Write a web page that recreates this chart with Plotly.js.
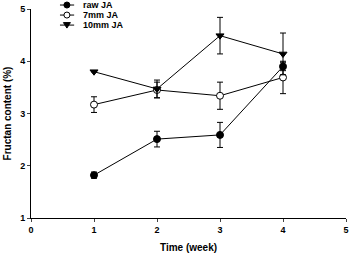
<!DOCTYPE html>
<html><head><meta charset="utf-8">
<script src="https://cdn.plot.ly/plotly-3.0.1.min.js"></script>
<style>html,body{margin:0;padding:0;background:#fff}#c{width:351px;height:253px}</style>
</head><body><div id="c"></div>
<script>
const weeks = [1, 2, 3, 4];
const rawJA = [1.82, 2.51, 2.59, 3.90];
const rawErr = [0.06, 0.15, 0.24, 0.08];
const mm7JA = [3.17, 3.45, 3.34, 3.69];
const mm7Err = [0.15, 0.15, 0.26, 0.31];
const mm10JA = [3.80, 3.47, 4.49, 4.14];
const mm10Err = [null, 0.17, 0.35, 0.40];
const names = ['raw JA', '7mm JA', '10mm JA'];
const symbols = ['circle', 'circle', 'triangle-down'];
const fills = ['#000', '#fff', '#000'];
const F = 'Liberation Sans, Arial, sans-serif';

function tr(y, e, i) {
  return {x: weeks, y: y, name: names[i], type: 'scatter', mode: 'lines+markers', showlegend: false,
    line: {color: '#000', width: 1},
    marker: {symbol: symbols[i], size: 7, color: fills[i], line: {color: '#000', width: 1}},
    error_y: {type: 'data', array: e, visible: true, color: '#000', thickness: 1, width: 3}};
}
const data = [tr(rawJA, rawErr, 0), tr(mm7JA, mm7Err, 1), tr(mm10JA, mm10Err, 2)];

// manual compact legend
const shapes = [], annotations = [];
const legY = [1.019, 0.971, 0.923];
names.forEach((n, i) => {
  shapes.push({type: 'line', xref: 'paper', yref: 'paper', x0: 0.092, x1: 0.137, y0: legY[i], y1: legY[i],
    line: {color: '#000', width: 1}});
  if (symbols[i] === 'circle') {
    shapes.push({type: 'circle', xref: 'paper', yref: 'paper', xsizemode: 'pixel', ysizemode: 'pixel',
      xanchor: 0.114, yanchor: legY[i], x0: -3, x1: 3, y0: -3, y1: 3,
      fillcolor: fills[i], line: {color: '#000', width: 1}});
  } else {
    shapes.push({type: 'path', xref: 'paper', yref: 'paper', xsizemode: 'pixel', ysizemode: 'pixel',
      xanchor: 0.114, yanchor: legY[i], path: 'M-3.5,2.5 L3.5,2.5 L0,-3 Z',
      fillcolor: fills[i], line: {color: '#000', width: 1}});
  }
  annotations.push({xref: 'paper', yref: 'paper', x: 0.159, y: legY[i], xanchor: 'left', yanchor: 'middle',
    text: n, showarrow: false, font: {family: F, size: 9, weight: 'bold', color: '#000'}});
});

const layout = {
  width: 351, height: 253,
  margin: {l: 31, r: 5, t: 9, b: 35},
  paper_bgcolor: '#fff', plot_bgcolor: '#fff',
  font: {family: F, size: 9, color: '#000', weight: 'bold'},
  showlegend: false,
  shapes: shapes, annotations: annotations,
  xaxis: {range: [0, 5], tickvals: [0,1,2,3,4,5], ticks: 'outside', ticklen: 3, tickwidth: 1,
    showline: true, linecolor: '#000', linewidth: 1, showgrid: false, zeroline: false,
    tickfont: {family: F, size: 9, weight: 'bold'},
    title: {text: 'Time (week)', font: {family: F, size: 10, weight: 'bold'}, standoff: 10}},
  yaxis: {range: [1, 5], tickvals: [1,2,3,4,5], ticks: 'outside', ticklen: 3, tickwidth: 1,
    showline: true, linecolor: '#000', linewidth: 1, showgrid: false, zeroline: false,
    tickfont: {family: F, size: 9, weight: 'bold'},
    title: {text: 'Fructan content (%)', font: {family: F, size: 10, weight: 'bold'}, standoff: 6}}
};
Plotly.newPlot('c', data, layout, {displayModeBar: false, staticPlot: true});
</script></body></html>
